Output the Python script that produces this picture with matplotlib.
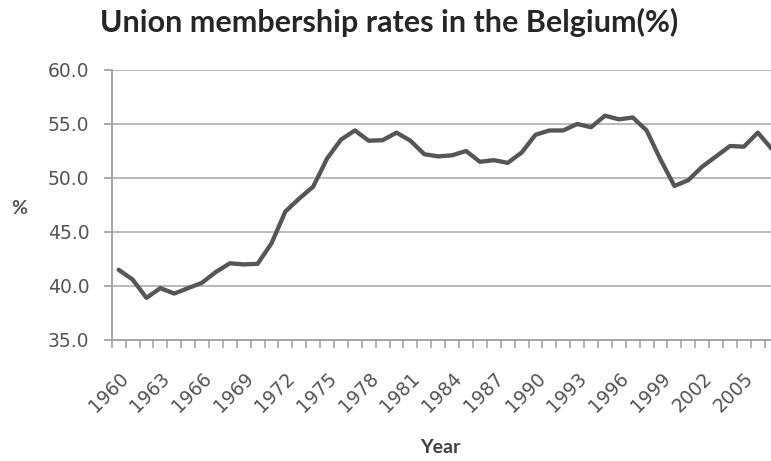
import matplotlib
matplotlib.use("Agg")
import matplotlib.pyplot as plt
from matplotlib.ticker import FixedLocator, FuncFormatter

years = list(range(1960, 2008))
membership = [
    41.5, 40.6, 38.9, 39.8, 39.3, 39.8, 40.3, 41.3, 42.1, 42.0,
    42.05, 43.95, 46.9, 48.1, 49.2, 51.8, 53.55, 54.4, 53.45, 53.5,
    54.2, 53.45, 52.2, 52.0, 52.1, 52.5, 51.5, 51.65, 51.4, 52.35,
    54.0, 54.4, 54.4, 55.0, 54.7, 55.77, 55.43, 55.6, 54.4, 51.7,
    49.26, 49.8, 51.05, 52.0, 52.96, 52.9, 54.2, 52.7,
]
label_years = list(range(1960, 2006, 3))
y_ticks = [35, 40, 45, 50, 55, 60]

plt.rcParams["font.family"] = ["Lato", "DejaVu Sans"]
tick_font = "DejaVu Sans"

fig = plt.figure(figsize=(7.71, 4.61), dpi=100)
fig.patch.set_facecolor("white")
ax = fig.add_axes([0.1449, 0.2625, 0.865, 0.5857])

idx = list(range(len(years)))
ax.plot(idx, membership, color="#565656", linewidth=3.1, solid_joinstyle="round",
        solid_capstyle="round", zorder=3)

ax.set_xlim(-0.5, len(years) - 0.5)
ax.set_ylim(35, 60)

# gridlines and axes
ax.set_yticks(y_ticks)
ax.yaxis.set_major_formatter(FuncFormatter(lambda v, p: f"{v:.1f}"))
ax.grid(axis="y", color="#b5b5b5", linewidth=1.3, zorder=1)
for side in ("top", "right"):
    ax.spines[side].set_visible(False)
for side in ("left", "bottom"):
    ax.spines[side].set_color("#a6a6a6")
    ax.spines[side].set_linewidth(1.4)
ax.tick_params(axis="y", length=6, width=1.3, color="#a6a6a6", labelsize=13.5,
               labelcolor="#555555", pad=10)
for lbl in ax.get_yticklabels():
    lbl.set_fontfamily(tick_font)

# category axis: ticks between categories, labels every third year
ax.xaxis.set_major_locator(FixedLocator([years.index(y) for y in label_years]))
ax.set_xticklabels([str(y) for y in label_years], rotation=45, ha="right",
                   va="top", rotation_mode="anchor", fontsize=13.5,
                   color="#555555", fontfamily=tick_font)
ax.tick_params(axis="x", which="major", length=0, pad=21)
ax.xaxis.set_minor_locator(FixedLocator([i - 0.5 for i in range(len(years) + 1)]))
ax.tick_params(axis="x", which="minor", length=6, width=1.2, color="#a6a6a6")

fig.text(0.505, 0.952, "Union membership rates in the Belgium(%)", ha="center",
         va="center", fontsize=22, fontweight="bold", color="#262626")
fig.text(0.025, 0.548, "%", ha="center", va="center", fontsize=14,
         fontweight="bold", color="#555555")
fig.text(0.571, 0.03, "Year", ha="center", va="center", fontsize=14,
         fontweight="bold", color="#404040")

fig.savefig("out.png", dpi=100, facecolor="white")
